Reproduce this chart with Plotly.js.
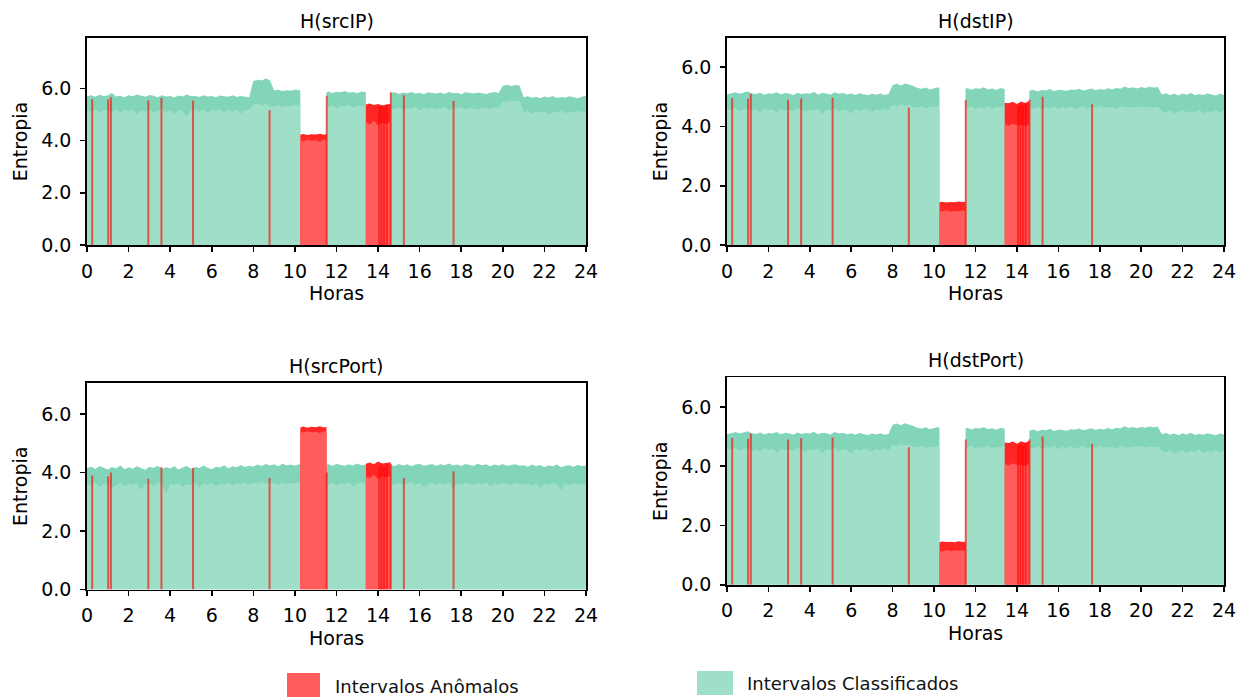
<!DOCTYPE html>
<html>
<head>
<meta charset="utf-8">
<script src="https://cdn.plot.ly/plotly-3.0.1.min.js"></script>
<style>html,body{margin:0;padding:0;background:#fff;}#chart{width:1253px;height:697px;}</style>
</head>
<body>
<div id="chart"></div>
<script>
// ---- time grids (hours) ----
const hoursA = [0,0.2,0.4,0.6,0.8,1,1.2,1.4,1.6,1.8,2,2.2,2.4,2.6,2.8,3,3.2,3.4,3.6,3.8,4,4.2,4.4,4.6,4.8,5,5.2,5.4,5.6,5.8,6,6.2,6.4,6.6,6.8,7,7.2,7.4,7.6,7.8,8,8.2,8.4,8.6,8.8,9,9.2,9.4,9.6,9.8,10,10.2,10.26];
const hoursB = [11.52,11.6,11.8,12,12.2,12.4,12.6,12.8,13,13.2,13.41];
const hoursC = [14.6,14.8,15,15.2,15.4,15.6,15.8,16,16.2,16.4,16.6,16.8,17,17.2,17.4,17.6,17.8,18,18.2,18.4,18.6,18.8,19,19.2,19.4,19.6,19.8,20,20.2,20.4,20.6,20.8,21,21.2,21.4,21.6,21.8,22,22.2,22.4,22.6,22.8,23,23.2,23.4,23.6,23.8,24];
const blockHours1 = [10.26,10.4,10.6,10.8,11,11.2,11.4,11.52];
const blockHours2 = [13.41,13.6,13.8,14,14.2,14.4,14.6];
const spikeHours = [0.25,1.02,1.15,2.95,3.58,5.1,8.78,11.53,14.06,14.17,14.29,14.42,14.61,15.24,17.63];
const xTicks = [0,2,4,6,8,10,12,14,16,18,20,22,24];
const yTicks = [0,2,4,6];

// ---- H(srcIP) ----
const srcIP_hiA = [5.70,5.74,5.68,5.76,5.71,5.73,5.82,5.69,5.72,5.66,5.74,5.70,5.77,5.71,5.68,5.75,5.72,5.66,5.74,5.69,5.71,5.65,5.73,5.69,5.77,5.70,5.72,5.67,5.74,5.69,5.71,5.66,5.73,5.70,5.68,5.74,5.67,5.71,5.69,5.66,6.28,6.33,6.30,6.38,6.31,5.92,5.95,5.90,5.93,5.91,5.96,5.94,5.92];
const srcIP_loA = [5.18,5.12,5.20,5.08,5.15,5.19,5.10,5.22,5.05,5.17,5.13,5.20,4.98,5.16,5.11,5.19,5.07,5.14,5.21,5.09,5.16,5.02,5.18,5.12,4.92,5.15,5.20,5.10,5.17,5.06,5.19,5.13,5.21,5.08,5.16,5.11,5.18,5.04,5.15,5.20,5.38,5.42,5.35,5.40,5.33,5.30,5.36,5.28,5.34,5.31,5.37,5.33,5.35];
const srcIP_hiB = [5.84,5.88,5.82,5.87,5.85,5.90,5.83,5.86,5.81,5.88,5.85];
const srcIP_loB = [5.32,5.28,5.36,5.25,5.33,5.30,5.37,5.27,5.34,5.31,5.35];
const srcIP_hiC = [5.82,5.85,5.79,5.84,5.81,5.86,5.80,5.83,5.78,5.85,5.82,5.80,5.84,5.79,5.86,5.81,5.83,5.78,5.85,5.82,5.80,5.84,5.81,5.79,5.83,5.86,5.82,6.10,6.14,6.09,6.13,6.11,5.66,5.70,5.64,5.68,5.62,5.69,5.65,5.71,5.63,5.67,5.64,5.70,5.66,5.62,5.68,5.72];
const srcIP_loC = [5.24,5.20,5.28,5.18,5.25,5.22,5.30,5.15,5.26,5.21,5.27,5.19,5.24,5.28,5.17,5.25,5.22,5.29,5.20,5.26,5.23,5.18,5.27,5.24,5.21,5.28,5.25,5.52,5.48,5.55,5.50,5.53,5.08,5.14,5.02,5.12,5.06,5.15,4.98,5.11,5.09,5.16,5.04,5.13,5.07,5.14,5.10,5.12];
const srcIP_redHi1 = [4.22,4.25,4.21,4.24,4.23,4.26,4.22,4.25];
const srcIP_redLo1 = [4.02,3.97,4.04,3.99,4.01,3.96,4.03,4.00];
const srcIP_redHi2 = [5.38,5.42,5.36,5.40,5.34,5.39,5.41];
const srcIP_redLo2 = [4.70,4.62,4.75,4.58,4.68,4.64,4.72];
const srcIP_spikes = [5.58,5.57,5.66,5.54,5.63,5.54,5.16,5.72,5.30,5.36,5.28,5.38,5.85,5.74,5.52];

// ---- H(dstIP) ----
const dstIP_hiA = [5.08,5.12,5.15,5.10,5.13,5.18,5.11,5.09,5.14,5.07,5.12,5.10,5.15,5.08,5.13,5.11,5.06,5.14,5.09,5.12,5.10,5.16,5.08,5.13,5.11,5.07,5.15,5.10,5.13,5.08,5.11,5.06,5.12,5.09,5.05,5.10,5.07,5.11,5.06,5.09,5.40,5.44,5.38,5.45,5.41,5.36,5.30,5.27,5.31,5.25,5.29,5.32,5.28];
const dstIP_loA = [4.60,4.55,4.63,4.50,4.58,4.62,4.52,4.57,4.48,4.61,4.55,4.59,4.46,4.60,4.54,4.58,4.51,4.62,4.56,4.49,4.59,4.53,4.60,4.42,4.57,4.55,4.61,4.50,4.58,4.54,4.44,4.59,4.52,4.60,4.56,4.48,4.58,4.53,4.61,4.55,4.72,4.68,4.75,4.70,4.73,4.66,4.63,4.69,4.60,4.67,4.64,4.70,4.66];
const dstIP_hiB = [5.26,5.30,5.24,5.29,5.27,5.32,5.25,5.28,5.23,5.30,5.26];
const dstIP_loB = [4.66,4.62,4.68,4.58,4.65,4.63,4.69,4.60,4.66,4.64,4.67];
const dstIP_hiC = [5.20,5.24,5.18,5.23,5.21,5.26,5.19,5.24,5.22,5.20,5.25,5.23,5.27,5.21,5.25,5.28,5.22,5.26,5.24,5.29,5.25,5.30,5.27,5.35,5.29,5.32,5.28,5.33,5.30,5.34,5.31,5.33,5.08,5.12,5.06,5.10,5.04,5.11,5.07,5.13,5.05,5.09,5.06,5.11,5.08,5.04,5.10,5.07];
const dstIP_loC = [4.64,4.60,4.67,4.58,4.65,4.62,4.68,4.57,4.66,4.61,4.67,4.59,4.64,4.68,4.60,4.66,4.63,4.69,4.61,4.66,4.64,4.60,4.68,4.65,4.62,4.67,4.64,4.69,4.63,4.67,4.65,4.66,4.52,4.46,4.55,4.43,4.50,4.54,4.45,4.52,4.48,4.56,4.44,4.51,4.49,4.55,4.47,4.53];
const dstIP_redHi1 = [1.44,1.46,1.43,1.45,1.44,1.47,1.45,1.46];
const dstIP_redLo1 = [1.16,1.13,1.17,1.12,1.15,1.14,1.17,1.15];
const dstIP_redHi2 = [4.80,4.78,4.83,4.76,4.84,4.79,4.86];
const dstIP_redLo2 = [4.08,4.02,4.10,4.04,4.06,4.00,4.08];
const dstIP_spikes = [4.95,4.93,5.10,4.90,4.94,4.97,4.64,4.90,4.70,4.75,4.70,4.78,4.90,5.00,4.75];

// ---- H(srcPort) ----
const srcPort_hiA = [4.15,4.20,4.12,4.22,4.16,4.10,4.19,4.14,4.24,4.11,4.18,4.13,4.21,4.16,4.09,4.20,4.15,4.23,4.12,4.18,4.14,4.21,4.10,4.17,4.22,4.13,4.19,4.15,4.24,4.16,4.11,4.20,4.17,4.25,4.14,4.21,4.18,4.26,4.19,4.23,4.20,4.27,4.22,4.29,4.24,4.28,4.21,4.30,4.25,4.27,4.23,4.29,4.26];
const srcPort_loA = [3.62,3.55,3.66,3.50,3.60,3.64,3.45,3.58,3.63,3.52,3.61,3.57,3.65,3.40,3.59,3.62,3.54,3.66,3.58,3.30,3.61,3.56,3.64,3.51,3.60,3.57,3.63,3.48,3.62,3.58,3.65,3.53,3.61,3.59,3.66,3.55,3.63,3.60,3.67,3.58,3.65,3.62,3.68,3.60,3.66,3.63,3.58,3.67,3.61,3.65,3.62,3.68,3.64];
const srcPort_hiB = [4.25,4.29,4.22,4.30,4.26,4.23,4.28,4.24,4.31,4.25,4.27];
const srcPort_loB = [3.64,3.58,3.66,3.55,3.63,3.60,3.67,3.52,3.62,3.65,3.61];
const srcPort_hiC = [4.26,4.22,4.29,4.24,4.28,4.21,4.27,4.30,4.23,4.26,4.29,4.22,4.28,4.25,4.31,4.24,4.27,4.22,4.29,4.26,4.23,4.30,4.25,4.28,4.21,4.27,4.24,4.29,4.22,4.26,4.28,4.23,4.25,4.20,4.27,4.22,4.26,4.19,4.24,4.21,4.27,4.18,4.23,4.25,4.20,4.26,4.22,4.24];
const srcPort_loC = [3.63,3.58,3.66,3.55,3.62,3.67,3.59,3.64,3.50,3.61,3.65,3.57,3.63,3.60,3.66,3.45,3.62,3.58,3.65,3.61,3.56,3.64,3.60,3.67,3.53,3.62,3.59,3.65,3.61,3.57,3.64,3.60,3.58,3.62,3.55,3.63,3.48,3.61,3.57,3.64,3.59,3.40,3.62,3.56,3.63,3.58,3.61,3.60];
const srcPort_redHi1 = [5.54,5.57,5.53,5.56,5.55,5.58,5.54,5.56];
const srcPort_redLo1 = [5.40,5.36,5.42,5.37,5.39,5.35,5.41,5.38];
const srcPort_redHi2 = [4.30,4.34,4.28,4.38,4.31,4.33,4.35];
const srcPort_redLo2 = [3.88,3.80,3.92,3.78,3.86,3.83,3.90];
const srcPort_spikes = [3.90,3.87,4.00,3.79,4.19,4.15,3.81,4.00,4.20,4.25,4.18,4.28,4.30,3.81,4.04];

// ---- H(dstPort) (same profile as dstIP) ----
const dstPort_hiA = dstIP_hiA.slice(), dstPort_loA = dstIP_loA.slice();
const dstPort_hiB = dstIP_hiB.slice(), dstPort_loB = dstIP_loB.slice();
const dstPort_hiC = dstIP_hiC.slice(), dstPort_loC = dstIP_loC.slice();
const dstPort_redHi1 = [1.43,1.46,1.44,1.45,1.43,1.47,1.44,1.45];
const dstPort_redLo1 = [1.15,1.12,1.17,1.13,1.16,1.14,1.16,1.15];
const dstPort_redHi2 = dstIP_redHi2.slice(), dstPort_redLo2 = dstIP_redLo2.slice();
const dstPort_spikes = dstIP_spikes.slice();

const titles = ['H(srcIP)','H(dstIP)','H(srcPort)','H(dstPort)'];
const xTitle = 'Horas', yTitle = 'Entropia';
const legendLabels = ['Intervalos Anômalos','Intervalos Classificados'];

// ---- styling ----
const W = 1253, H = 697;
const GREEN = 'rgb(159,223,200)', GREEN_BAND = 'rgb(130,213,184)';
const RED = 'rgb(255,92,92)', RED_BAND = 'rgb(255,38,38)', SPIKE = 'rgba(255,0,0,0.62)';
const FONT = 'DejaVu Sans, sans-serif';
const FS = 19;

// pixel boxes of the four axes [left, right, top, bottom] and y range top
const boxes = [
  {l:87, r:586, t:37.5, b:245, ytop:7.95},
  {l:727, r:1224, t:37.5, b:245, ytop:7.0},
  {l:87, r:586, t:382.7, b:589.5, ytop:7.07},
  {l:727, r:1224, t:377.3, b:584.7, ytop:7.0}
];

const data = [];
function area(xa, ya, xs, ys, color){
  data.push({type:'scatter', mode:'lines', xaxis:xa, yaxis:ya, hoverinfo:'skip', showlegend:false,
    x:xs, y:ys, fill:'tozeroy', fillcolor:color, line:{width:0, color:color}});
}
function addPanel(i, hiA, hiB, hiC, loA, loB, loC, rh1, rl1, rh2, rl2, spikes){
  const sfx = i === 0 ? '' : String(i+1);
  const xa = 'x'+sfx, ya = 'y'+sfx;
  // classified intervals (green): noise band, then solid part
  [[hoursA,hiA,loA],[hoursB,hiB,loB],[hoursC,hiC,loC]].forEach(s => {
    area(xa, ya, s[0], s[1], GREEN_BAND);
    area(xa, ya, s[0], s[2], GREEN);
  });
  // anomalous blocks (red)
  [[blockHours1,rh1,rl1],[blockHours2,rh2,rl2]].forEach(s => {
    area(xa, ya, s[0], s[1], RED_BAND);
    area(xa, ya, s[0], s[2], RED);
  });
  // isolated anomalous intervals (thin red bars)
  const sx = [], sy = [];
  spikeHours.forEach((h, k) => { sx.push(h, h, null); sy.push(0, spikes[k], null); });
  data.push({type:'scatter', mode:'lines', xaxis:xa, yaxis:ya, hoverinfo:'skip', showlegend:false,
    x:sx, y:sy, line:{width:2, color:SPIKE}});
}
addPanel(0, srcIP_hiA, srcIP_hiB, srcIP_hiC, srcIP_loA, srcIP_loB, srcIP_loC, srcIP_redHi1, srcIP_redLo1, srcIP_redHi2, srcIP_redLo2, srcIP_spikes);
addPanel(1, dstIP_hiA, dstIP_hiB, dstIP_hiC, dstIP_loA, dstIP_loB, dstIP_loC, dstIP_redHi1, dstIP_redLo1, dstIP_redHi2, dstIP_redLo2, dstIP_spikes);
addPanel(2, srcPort_hiA, srcPort_hiB, srcPort_hiC, srcPort_loA, srcPort_loB, srcPort_loC, srcPort_redHi1, srcPort_redLo1, srcPort_redHi2, srcPort_redLo2, srcPort_spikes);
addPanel(3, dstPort_hiA, dstPort_hiB, dstPort_hiC, dstPort_loA, dstPort_loB, dstPort_loC, dstPort_redHi1, dstPort_redLo1, dstPort_redHi2, dstPort_redLo2, dstPort_spikes);

const layout = {
  width:W, height:H, autosize:false,
  margin:{l:0, r:0, t:0, b:0},
  paper_bgcolor:'#fff', plot_bgcolor:'#fff',
  font:{family:FONT, size:FS, color:'#000'},
  showlegend:false,
  annotations:[], shapes:[]
};
const tickFont = {family:FONT, size:FS, color:'#000'};
const txtFont = {family:FONT, size:FS, color:'#000'};
boxes.forEach((bx, i) => {
  const sfx = i === 0 ? '' : String(i+1);
  const common = {ticks:'outside', ticklen:5, tickwidth:1.6, tickcolor:'#000',
    showline:true, mirror:true, linecolor:'#000', linewidth:1.8,
    showgrid:false, zeroline:false, tickfont:tickFont};
  layout['xaxis'+sfx] = Object.assign({}, common, {
    domain:[bx.l/W, bx.r/W], anchor:'y'+sfx, range:[0,24], tickvals:xTicks, ticklabelstandoff:3
  });
  layout['yaxis'+sfx] = Object.assign({}, common, {
    domain:[1-bx.b/H, 1-bx.t/H], anchor:'x'+sfx, range:[0,bx.ytop], tickvals:yTicks, tickformat:'.1f', ticklabelstandoff:5
  });
  const cx = (bx.l+bx.r)/2;
  layout.annotations.push({text:titles[i], xref:'paper', yref:'paper', x:cx/W, y:1-(bx.t-17)/H,
    xanchor:'center', yanchor:'middle', showarrow:false, font:txtFont});
  layout.annotations.push({text:xTitle, xref:'paper', yref:'paper', x:cx/W, y:1-(bx.b+48)/H,
    xanchor:'center', yanchor:'middle', showarrow:false, font:txtFont});
  layout.annotations.push({text:yTitle, xref:'paper', yref:'paper', x:(bx.l-67)/W, y:1-((bx.t+bx.b)/2)/H,
    xanchor:'center', yanchor:'middle', textangle:-90, showarrow:false, font:txtFont});
});
// legend (drawn manually as in the original figure)
const legendItems = [
  {color:RED, box:[287,673,320,697], tx:333, ty:686},
  {color:GREEN, box:[697,671,733,695], tx:745, ty:683}
];
legendItems.forEach((it, k) => {
  layout.shapes.push({type:'rect', xref:'paper', yref:'paper',
    x0:it.box[0]/W, x1:it.box[2]/W, y0:1-it.box[3]/H, y1:1-it.box[1]/H,
    fillcolor:it.color, line:{width:0}});
  layout.annotations.push({text:legendLabels[k], xref:'paper', yref:'paper',
    x:it.tx/W, y:1-it.ty/H, xanchor:'left', yanchor:'middle', showarrow:false,
    font:{family:FONT, size:18, color:'#111'}});
});

Plotly.newPlot('chart', data, layout, {staticPlot:true, displayModeBar:false});
</script>
</body>
</html>
